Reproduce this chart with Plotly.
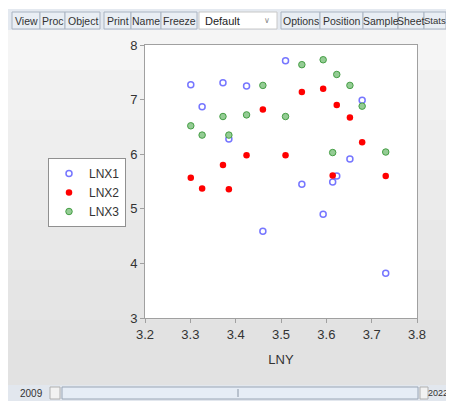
import plotly.graph_objects as go

# EViews group scatter, 2009-2022
lny = [3.301, 3.326, 3.372, 3.385, 3.424, 3.460, 3.510, 3.546, 3.593, 3.614, 3.623, 3.652, 3.679, 3.731]
lnx1 = [7.27, 6.87, 7.31, 6.28, 7.25, 4.59, 7.71, 5.45, 4.90, 5.49, 5.60, 5.91, 6.99, 3.82]
lnx2 = [5.57, 5.37, 5.80, 5.36, 5.98, 6.82, 5.98, 7.14, 7.20, 5.61, 6.90, 6.67, 6.22, 5.60]
lnx3 = [6.52, 6.35, 6.69, 6.35, 6.72, 7.26, 6.69, 7.64, 7.73, 6.03, 7.46, 7.26, 6.88, 6.04]

toolbar = [("View", 12, 40), ("Proc", 40, 65), ("Object", 65, 100),
           ("Print", 104, 131), ("Name", 131, 161), ("Freeze", 161, 197),
           ("Options", 281, 320), ("Position", 320, 363), ("Sample", 363, 398),
           ("Sheet", 398, 424), ("Stats", 424, 446)]

# page body has an 8px margin, so the figure is drawn 8px in from the window edge
OFF = 8
W, H = 454 - OFF, 401 - OFF
L, R, T, B = 145, 417, 45, 318   # plot area in window pixels


def px(x):
    return (x - L) / (R - L)


def py(y):
    return (B - y) / (B - T)


def box(x0, x1, y0, y1, fill, line=None, layer="above"):
    return dict(type="rect", xref="paper", yref="paper", layer=layer,
                x0=px(x0), x1=px(x1), y0=py(y0), y1=py(y1), fillcolor=fill,
                line=dict(width=0) if line is None else dict(width=1, color=line))


def label(text, x, y, size=10.5, anchor="center", color="#333333", family="Liberation Sans"):
    return dict(text=text, x=px(x), y=py(y), xref="paper", yref="paper",
                xanchor=anchor, yanchor="middle", showarrow=False,
                font=dict(size=size, color=color, family=family))


fig = go.Figure()
fig.add_trace(go.Scatter(x=lny, y=lnx1, mode="markers", name="LNX1",
                         marker=dict(symbol="circle-open", size=6, color="#7676ff",
                                     line=dict(width=1.5))))
fig.add_trace(go.Scatter(x=lny, y=lnx2, mode="markers", name="LNX2",
                         marker=dict(symbol="circle", size=6.5, color="#ff0000",
                                     line=dict(width=0))))
fig.add_trace(go.Scatter(x=lny, y=lnx3, mode="markers", name="LNX3",
                         marker=dict(symbol="circle", size=6.5, color="#94cc94",
                                     line=dict(width=1, color="#459e45"))))

# soft vertical gradient of the window background
shapes = [box(0, 454, 0, 9, "#ffffff", layer="below"),
          box(0, 454, 9, 30, "#e4e9f0", layer="below")]
bands = [(30, 70, "#f5f5f5"), (70, 120, "#f1f1f1"), (120, 170, "#eeeeee"),
         (170, 220, "#ebebeb"), (220, 270, "#e8e8e8"), (270, 320, "#e5e5e5"),
         (320, 385, "#e2e2e2")]
for a, b, c in bands:
    shapes.append(box(0, 454, a, b, c, layer="below"))
shapes.append(box(L, R, T, B, "#ffffff", layer="below"))
annots = []

for name, a, b in toolbar:
    shapes.append(box(a, b, 12, 29, "#e9eef4", "#aab4c2"))
    annots.append(label(name, (a + b) / 2, 20.5, size=10.5 if name != "Stats" else 9.5))
# dropdown
shapes.append(box(199, 277, 12, 29, "#ffffff", "#c8c8c8"))
annots.append(label("Default", 203, 20.5, size=11, anchor="left", color="#222222"))
annots.append(label("∨", 267, 20.5, size=8, color="#888888", family="DejaVu Sans"))

# bottom sample bar
shapes.append(box(0, 454, 385, 401, "#e2e7ee", layer="below"))
shapes.append(box(62, 418, 387, 399, "#e6edf6", "#9aa6b6"))
shapes.append(box(50, 60, 387, 399, "#f2f2f2", "#b0b0b0"))
shapes.append(box(420, 428, 387, 399, "#f2f2f2", "#b0b0b0"))
shapes.append(dict(type="line", xref="paper", yref="paper",
                   x0=px(238), x1=px(238), y0=py(389), y1=py(397),
                   line=dict(width=1, color="#8a96a6")))
annots.append(label("2009", 31, 393, size=10))
annots.append(label("2022", 438, 393, size=9))

fig.update_layout(
    width=W, height=H,
    margin=dict(l=L - OFF, r=W - (R - OFF), t=T - OFF, b=H - (B - OFF)),
    paper_bgcolor="#e2e2e2",
    plot_bgcolor="#ffffff",
    font=dict(family="Liberation Sans", size=13, color="#333333"),
    shapes=shapes,
    annotations=annots,
    showlegend=True,
    legend=dict(x=px(48), y=py(158), xanchor="left", yanchor="top",
                bgcolor="#ffffff", bordercolor="#909090", borderwidth=1,
                font=dict(size=12, color="#333333"), itemwidth=30,
                tracegroupgap=0),
)
fig.update_xaxes(range=[3.2, 3.8], tickvals=[3.2, 3.3, 3.4, 3.5, 3.6, 3.7, 3.8],
                 ticktext=["3.2", "3.3", "3.4", "3.5", "3.6", "3.7", "3.8"],
                 showgrid=False, zeroline=False, showline=True, mirror=True,
                 linecolor="#a0a0a0", linewidth=1, ticks="outside", ticklen=4,
                 tickcolor="#a0a0a0", tickfont=dict(size=13, color="#333333"),
                 title=dict(text="LNY", font=dict(size=13, color="#333333"), standoff=14))
fig.update_yaxes(range=[3, 8], tickvals=[3, 4, 5, 6, 7, 8],
                 showgrid=False, zeroline=False, showline=True, mirror=True,
                 linecolor="#a0a0a0", linewidth=1, ticks="outside", ticklen=4,
                 tickcolor="#a0a0a0", tickfont=dict(size=13, color="#333333"))

fig.write_html("out.html")
